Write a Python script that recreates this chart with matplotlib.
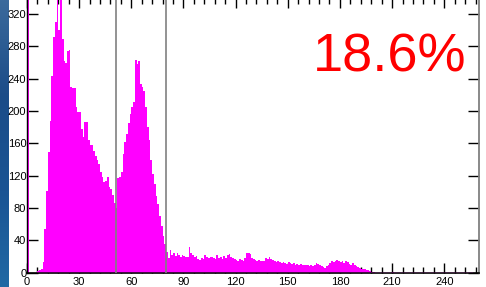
import numpy as np
import matplotlib
matplotlib.use("Agg")
import matplotlib.pyplot as plt
from matplotlib.ticker import MultipleLocator
from matplotlib.colors import LinearSegmentedColormap

# ---- data (histogram counts per bin, bin width 1, bins 0..255) ----
bin_start = 0
counts = [
    360, 0, 0, 0, 0, 0, 2, 3, 5, 13,                     # 0-9
    54, 101, 150, 188, 243, 292, 310, 345, 300, 345,     # 10-19
    289, 262, 260, 275, 276, 230, 228, 228, 205, 199,    # 20-29
    199, 178, 168, 186, 186, 164, 158, 158, 151, 145,    # 30-39
    140, 135, 125, 119, 112, 114, 119, 106, 104, 96,     # 40-49
    86, 80, 117, 119, 125, 147, 162, 172, 185, 197,      # 50-59
    205, 211, 263, 258, 262, 234, 230, 225, 205, 180,    # 60-69
    164, 140, 122, 110, 95, 85, 70, 58, 45, 36,          # 70-79
    26, 18, 28, 22, 24, 21, 25, 22, 19, 22,              # 80-89
    21, 19, 20, 32, 24, 22, 20, 21, 17, 16,              # 90-99
    18, 17, 22, 19, 18, 19, 20, 18, 17, 22,              # 100-109
    18, 19, 17, 21, 18, 22, 23, 20, 18, 17,              # 110-119
    16, 15, 17, 16, 15, 18, 25, 24, 23, 18,              # 120-129
    17, 16, 15, 16, 14, 15, 14, 18, 17, 19,              # 130-139
    17, 16, 14, 13, 14, 13, 12, 13, 12, 11,              # 140-149
    13, 12, 11, 12, 10, 11, 10, 11, 10, 9,               # 150-159
    10, 9, 8, 9, 8, 10, 12, 11, 9, 8,                    # 160-169
    7, 6, 8, 10, 12, 14, 13, 15, 16, 14,                 # 170-179
    13, 15, 12, 14, 13, 11, 10, 12, 9, 8,                # 180-189
    7, 6, 5, 5, 4, 3, 3, 2, 1, 1,                        # 190-199
    0, 0, 0, 0, 0, 0, 0, 0, 0, 0,                        # 200-209
    1, 0, 0, 0, 0, 0, 0, 0, 0, 0,                        # 210-219
]
counts = counts + [0] * (256 - len(counts))
threshold_lines = [51, 80]
x_tick_labels = [0, 30, 60, 90, 120, 150, 180, 210, 240]
y_tick_labels = [0, 40, 80, 120, 160, 200, 240, 280, 320]
percent_text = "18.6%"

W, H = 486, 287
fig = plt.figure(figsize=(W / 100, H / 100), dpi=100)
fig.patch.set_facecolor("white")

# left blue strip
strip = fig.add_axes([0, 0, 8.5 / W, 1])
grad = np.linspace(0, 1, 256).reshape(-1, 1)
cm = LinearSegmentedColormap.from_list("b", ["#3b6a9c", "#1b4c88", "#1a5494", "#2069a4"])
strip.imshow(grad, aspect="auto", cmap=cm, extent=[0, 1, 0, 1], origin="upper")
strip.set_axis_off()

left, right = 27, 479
bottom_px = 272.7
top_px = -2
ax = fig.add_axes([left / W, (H - bottom_px) / H, (right - left) / W, (bottom_px - top_px) / H])
ax.set_facecolor("white")

edges = np.arange(bin_start, bin_start + len(counts) + 1)
ax.stairs(counts, edges, fill=True, color="#ff00ff", linewidth=0, zorder=2)
ax.plot([6, 256], [0, 0], color="#b020b0", lw=1.0, zorder=3)

for t in threshold_lines:
    ax.axvline(t, color="#808080", lw=1.2, zorder=4)

ax.set_xlim(0, 260)
ax.set_ylim(0, 340)
ax.set_xticks(x_tick_labels)
ax.set_xticklabels([str(v) for v in x_tick_labels])
ax.set_yticks(y_tick_labels)
ax.set_yticklabels([str(v) for v in y_tick_labels])
ax.xaxis.set_minor_locator(MultipleLocator(6))

ax.tick_params(axis="x", which="major", direction="in", length=7, width=1, color="black",
               top=True, bottom=True, labelsize=8, pad=3)
ax.tick_params(axis="x", which="minor", direction="in", length=4, width=1, color="black",
               top=True, bottom=True)
ax.tick_params(axis="y", which="major", direction="in", length=8, width=1, color="black",
               left=True, right=True, labelsize=8, pad=0.5)
for lab in ax.get_xticklabels() + ax.get_yticklabels():
    lab.set_fontfamily("Liberation Sans")

ax.spines["left"].set_color("black")
ax.spines["left"].set_linewidth(1.0)
ax.spines["bottom"].set_color("black")
ax.spines["bottom"].set_linewidth(1.2)
ax.spines["right"].set_color("#808080")
ax.spines["right"].set_linewidth(1.3)
ax.spines["top"].set_color("#808080")

fig.text(390 / W, 1 - 72 / H, percent_text, color="#ff0000", fontsize=39,
         fontfamily="Liberation Sans", ha="center", va="baseline")

fig.savefig("out.png", dpi=100)
